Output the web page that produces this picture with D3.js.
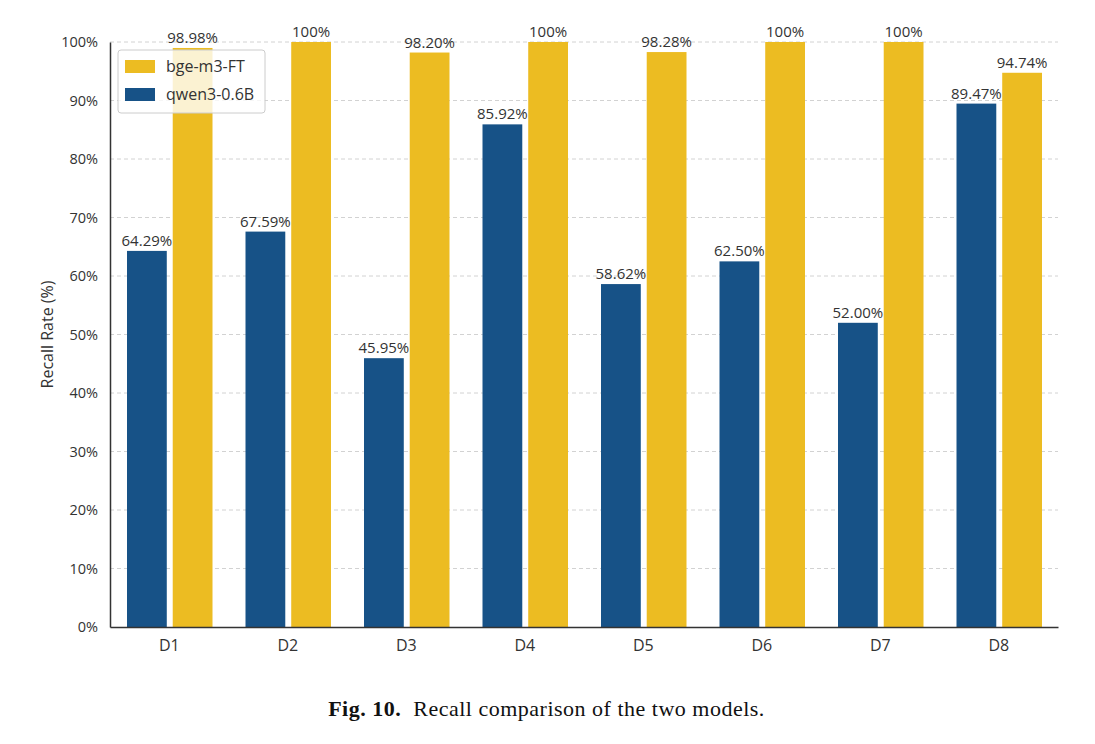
<!DOCTYPE html>
<html>
<head>
<meta charset="utf-8">
<script src="https://cdn.jsdelivr.net/npm/d3@7"></script>
<style>
  body { margin: 0; background: #fff; }
  text { font-family: "Open Sans", sans-serif; fill: #333; }
  .grid line { stroke: #d2d2d2; stroke-dasharray: 4,3; }
  .caption text { font-family: "Liberation Serif", serif; fill: #111; }
</style>
</head>
<body>
<div id="chart"></div>
<script>
// data
var categories = ["D1", "D2", "D3", "D4", "D5", "D6", "D7", "D8"];
var qwenValues = [64.29, 67.59, 45.95, 85.92, 58.62, 62.50, 52.00, 89.47];
var bgeValues = [98.98, 100, 98.20, 100, 98.28, 100, 100, 94.74];
var qwenLabels = ["64.29%", "67.59%", "45.95%", "85.92%", "58.62%", "62.50%", "52.00%", "89.47%"];
var bgeLabels = ["98.98%", "100%", "98.20%", "100%", "98.28%", "100%", "100%", "94.74%"];
var seriesNames = ["qwen3-0.6B", "bge-m3-FT"];
var yTicks = [0, 10, 20, 30, 40, 50, 60, 70, 80, 90, 100];

var W = 1095, H = 744;
var margin = {top: 42, right: 37, bottom: 117, left: 110};
var width = W - margin.left - margin.right,
    height = H - margin.top - margin.bottom;

var svg = d3.select("#chart").append("svg")
  .attr("width", W).attr("height", H);
var g = svg.append("g")
  .attr("transform", "translate(" + margin.left + "," + margin.top + ")");

var x = d3.scaleBand().domain(categories).range([0, width]).padding(0);
var xSub = d3.scaleBand().domain(seriesNames).range([17, x.bandwidth() - 16]).paddingInner(0.13);
var y = d3.scaleLinear().domain([0, 100]).range([height, 0]);
var color = d3.scaleOrdinal().domain(seriesNames).range(["#175287", "#ecbc22"]);

// grid
g.append("g").attr("class", "grid")
  .selectAll("line").data(yTicks.filter(function(d){ return d > 0; }))
  .enter().append("line")
  .attr("x1", 0).attr("x2", width)
  .attr("y1", function(d){ return y(d); }).attr("y2", function(d){ return y(d); });

// rows
var rows = categories.map(function(c, i) {
  return {cat: c, items: [
    {key: seriesNames[0], value: qwenValues[i], label: qwenLabels[i]},
    {key: seriesNames[1], value: bgeValues[i], label: bgeLabels[i]}
  ]};
});

var groups = g.append("g").selectAll("g").data(rows).enter().append("g")
  .attr("transform", function(d){ return "translate(" + x(d.cat) + ",0)"; });

groups.selectAll("rect").data(function(d){ return d.items; }).enter().append("rect")
  .attr("x", function(d){ return xSub(d.key); })
  .attr("y", function(d){ return y(d.value); })
  .attr("width", xSub.bandwidth())
  .attr("height", function(d){ return height - y(d.value); })
  .attr("fill", function(d){ return color(d.key); });

groups.selectAll("text.val").data(function(d){ return d.items; }).enter().append("text")
  .attr("class", "val")
  .attr("x", function(d){ return xSub(d.key) + xSub.bandwidth() / 2; })
  .attr("y", function(d){ return y(d.value) - 5; })
  .attr("text-anchor", "middle")
  .style("font-size", "15px")
  .text(function(d){ return d.label; });

// axes
var yAxis = g.append("g")
  .call(d3.axisLeft(y).tickValues(yTicks).tickSize(0).tickPadding(12)
    .tickFormat(function(d){ return d + "%"; }));
yAxis.select(".domain").attr("stroke", "#333").attr("stroke-width", 1.5);
yAxis.selectAll("text").style("font-size", "14.5px");

var xAxis = g.append("g").attr("transform", "translate(0," + height + ")")
  .call(d3.axisBottom(x).tickSize(0).tickPadding(13));
xAxis.select(".domain").attr("stroke", "#333").attr("stroke-width", 1.5);
xAxis.selectAll("text").style("font-size", "16px");

g.append("text")
  .attr("transform", "translate(" + (-57) + "," + (height / 2) + ") rotate(-90)")
  .attr("text-anchor", "middle")
  .style("font-size", "16px")
  .text("Recall Rate (%)");

// legend
var legend = svg.append("g").attr("transform", "translate(118,50)");
legend.append("rect")
  .attr("width", 147).attr("height", 63).attr("rx", 3)
  .attr("fill", "rgba(255,255,255,0.8)").attr("stroke", "#ccc");
var legendOrder = [seriesNames[1], seriesNames[0]];
legendOrder.forEach(function(name, i) {
  legend.append("rect")
    .attr("x", 7).attr("y", 10 + i * 28).attr("width", 30).attr("height", 13)
    .attr("fill", color(name));
  legend.append("text")
    .attr("x", 48).attr("y", 22 + i * 28)
    .style("font-size", "16px")
    .text(name);
});

// caption
var cap = svg.append("g").attr("class", "caption");
var ct = cap.append("text")
  .attr("x", W / 2 - 1).attr("y", 716)
  .attr("text-anchor", "middle")
  .style("font-size", "22px")
  .style("letter-spacing", "0.5px");
ct.append("tspan").style("font-weight", "bold").text("Fig. 10.");
ct.append("tspan").text("\u00a0 Recall comparison of the two models.");
</script>
</body>
</html>
